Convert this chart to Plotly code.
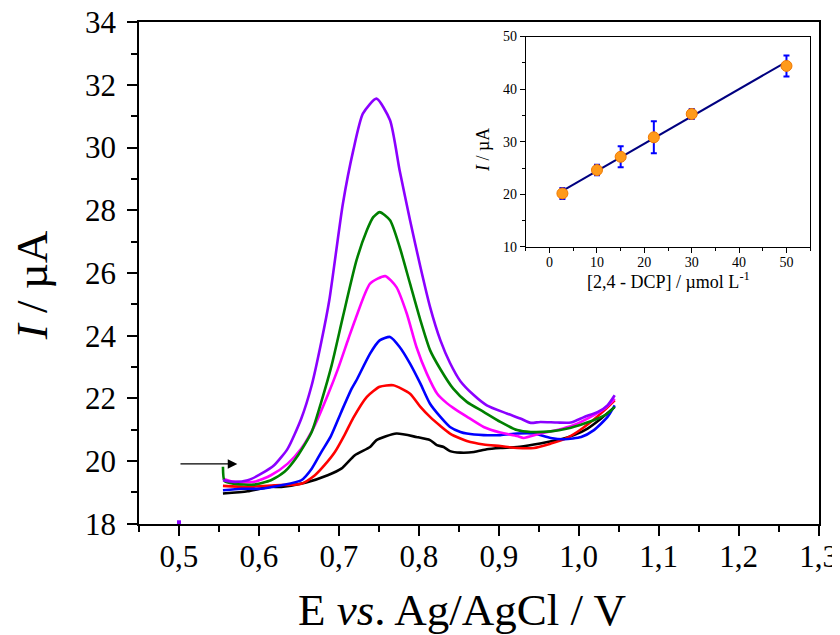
import plotly.graph_objects as go

# ---------------- main voltammograms (E / V, I / uA) ----------------
v_black = [0.555, 0.586, 0.613, 0.628, 0.658, 0.686, 0.703, 0.720, 0.739, 0.747, 0.772, 0.797, 0.814,
           0.8225, 0.831, 0.839, 0.852, 0.869, 0.885, 0.902, 0.923, 0.944, 0.961, 0.978, 0.994, 1.011,
           1.028, 1.045]
i_black = [18.97, 19.04, 19.18, 19.18, 19.31, 19.55, 19.76, 20.19, 20.45, 20.67, 20.88, 20.77, 20.67,
           20.51, 20.45, 20.32, 20.27, 20.29, 20.38, 20.42, 20.45, 20.53, 20.61, 20.70, 20.83, 21.04,
           21.36, 21.73]

v_red = [0.555, 0.586, 0.619, 0.653, 0.670, 0.682, 0.695, 0.707, 0.718, 0.735, 0.751, 0.768, 0.789,
         0.802, 0.814, 0.827, 0.839, 0.852, 0.860, 0.881, 0.902, 0.923, 0.944, 0.965, 0.982, 0.998,
         1.015, 1.032, 1.045]
i_red = [19.21, 19.18, 19.23, 19.28, 19.55, 19.87, 20.29, 20.83, 21.38, 22.05, 22.37, 22.42, 22.15,
         21.73, 21.41, 21.12, 20.88, 20.72, 20.64, 20.53, 20.48, 20.42, 20.42, 20.56, 20.70, 20.93,
         21.25, 21.62, 21.94]

v_blue = [0.555, 0.578, 0.603, 0.628, 0.653, 0.666, 0.678, 0.690, 0.703, 0.716, 0.722, 0.739, 0.751,
          0.764, 0.776, 0.789, 0.802, 0.814, 0.827, 0.839, 0.852, 0.860, 0.881, 0.902, 0.923, 0.944,
          0.965, 0.982, 1.003, 1.019, 1.036, 1.045]
i_blue = [19.07, 19.12, 19.12, 19.23, 19.39, 19.76, 20.29, 20.80, 21.57, 22.31, 22.58, 23.43, 23.85,
          23.96, 23.64, 23.11, 22.47, 21.83, 21.41, 21.09, 20.93, 20.88, 20.83, 20.83, 20.88, 20.88,
          20.74, 20.70, 20.77, 20.99, 21.41, 21.78]

v_magenta = [0.555, 0.569, 0.594, 0.615, 0.636, 0.653, 0.670, 0.686, 0.699, 0.712, 0.721, 0.739, 0.758,
             0.772, 0.785, 0.797, 0.810, 0.823, 0.835, 0.843, 0.860, 0.881, 0.902, 0.923, 0.931, 0.952,
             0.973, 0.994, 1.015, 1.032, 1.045]
i_magenta = [19.44, 19.34, 19.34, 19.55, 19.92, 20.40, 21.15, 22.10, 22.95, 23.91, 24.55, 25.66, 25.90,
             25.55, 24.70, 23.64, 22.79, 22.15, 21.85, 21.70, 21.42, 21.09, 20.91, 20.80, 20.74, 20.88,
             20.99, 21.15, 21.41, 21.67, 21.99]

v_green = [0.555, 0.557, 0.569, 0.594, 0.615, 0.632, 0.649, 0.666, 0.678, 0.691, 0.705, 0.722, 0.735,
           0.743, 0.751, 0.764, 0.776, 0.789, 0.802, 0.814, 0.827, 0.843, 0.860, 0.881, 0.902, 0.923,
           0.940, 0.965, 0.986, 1.007, 1.024, 1.036, 1.045]
i_green = [19.82, 19.36, 19.28, 19.25, 19.39, 19.66, 20.19, 20.93, 21.89, 23.06, 24.60, 26.40, 27.36,
           27.78, 27.94, 27.68, 26.83, 25.66, 24.49, 23.54, 22.93, 22.31, 21.89, 21.57, 21.25, 20.99,
           20.93, 20.95, 21.04, 21.20, 21.36, 21.52, 21.73]

v_purple = [0.555, 0.569, 0.586, 0.603, 0.619, 0.636, 0.653, 0.666, 0.678, 0.688, 0.705, 0.718, 0.730,
            0.747, 0.764, 0.776, 0.789, 0.802, 0.814, 0.827, 0.839, 0.852, 0.869, 0.885, 0.910, 0.927,
            0.940, 0.952, 0.973, 0.990, 1.007, 1.024, 1.036, 1.045]
i_purple = [19.39, 19.34, 19.39, 19.60, 19.87, 20.40, 21.36, 22.42, 23.80, 25.13, 28.21, 29.91, 31.08,
            31.56, 30.87, 29.27, 27.68, 26.19, 24.92, 23.85, 23.13, 22.55, 22.10, 21.78, 21.52, 21.36,
            21.22, 21.25, 21.23, 21.23, 21.41, 21.57, 21.78, 22.10]

# stray point at the axis corner
v_dot = [0.5]
i_dot = [18.05]

# arrow (start / end potential, current)
arrow_v = [0.50, 0.573]
arrow_i = 19.91

# ---------------- inset calibration ----------------
conc = [2.7, 10, 15, 22, 30, 50]
i_peak = [20.17, 24.61, 27.14, 30.84, 35.28, 44.42]
i_err = [1.05, 1.0, 2.0, 3.05, 0.95, 2.0]
fit_x = [2.7, 50]
fit_y = [20.67, 45.2]

series = [
    (v_black, i_black, "#000000"),
    (v_red, i_red, "#FF0000"),
    (v_blue, i_blue, "#0000FF"),
    (v_magenta, i_magenta, "#FF00FF"),
    (v_green, i_green, "#008000"),
    (v_purple, i_purple, "#8B00FF"),
]

FONT = "Liberation Serif, Times New Roman, serif"

fig = go.Figure()
for v, i, c in series:
    fig.add_trace(go.Scatter(x=v, y=i, mode="lines",
                             line=dict(color=c, width=2.6, shape="spline", smoothing=0.6),
                             showlegend=False, hoverinfo="skip"))

fig.add_trace(go.Scatter(x=v_dot, y=i_dot, mode="markers",
                         marker=dict(color="#8B00FF", size=4, symbol="square"),
                         cliponaxis=False, showlegend=False))

# inset
fig.add_trace(go.Scatter(x=fit_x, y=fit_y, mode="lines", line=dict(color="#000080", width=2),
                         xaxis="x2", yaxis="y2", showlegend=False))
fig.add_trace(go.Scatter(x=conc, y=i_peak, mode="markers",
                         marker=dict(color="#FF9A1A", size=11, line=dict(color="#F07800", width=1)),
                         error_y=dict(type="data", array=i_err, color="#0000FF", thickness=2, width=3),
                         xaxis="x2", yaxis="y2", showlegend=False))

fig.add_annotation(x=arrow_v[1], y=arrow_i, ax=arrow_v[0], ay=arrow_i, xref="x", yref="y",
                   axref="x", ayref="y", showarrow=True, arrowhead=2, arrowsize=1.6,
                   arrowwidth=1.2, arrowcolor="black", text="")

# axis titles
fig.add_annotation(text="E <i>vs</i>. Ag/AgCl / V", xref="paper", yref="paper", x=0.475, y=-0.171,
                   xanchor="center", yanchor="middle", showarrow=False,
                   font=dict(size=45, family=FONT, color="black"))
fig.add_annotation(text="<i>I</i> / µA", xref="paper", yref="paper", x=-0.157, y=0.476,
                   xanchor="center", yanchor="middle", showarrow=False, textangle=-90,
                   font=dict(size=45, family=FONT, color="black"))
fig.add_annotation(text="[2,4 - DCP] / µmol L<sup>-1</sup>", xref="paper", yref="paper",
                   x=0.778, y=0.486, xanchor="center", yanchor="middle", showarrow=False,
                   font=dict(size=18, family=FONT, color="black"))
fig.add_annotation(text="<i>I</i> / µA", xref="paper", yref="paper", x=0.506, y=0.745,
                   xanchor="center", yanchor="middle", showarrow=False, textangle=-90,
                   font=dict(size=18, family=FONT, color="black"))

axis_common = dict(showline=True, linecolor="black", linewidth=1.5, mirror=True, showgrid=False,
                   zeroline=False, ticks="outside", tickcolor="black", tickwidth=1.5,
                   automargin=False, ticklabeloverflow="allow")

fig.update_layout(
    width=840, height=635,
    margin=dict(l=131, r=29, t=14, b=119, autoexpand=False),
    paper_bgcolor="white", plot_bgcolor="white",
    separators=",.",
    font=dict(family=FONT, color="black"),
    xaxis=dict(**axis_common, range=[0.45, 1.3005], tick0=0.5, dtick=0.1, tickformat=".1f",
               ticklen=10, ticklabelstandoff=-6,
               minor=dict(dtick=0.05, tick0=0.5, ticks="outside", ticklen=6,
                          tickcolor="black", tickwidth=1.5),
               tickfont=dict(size=31, family=FONT)),
    yaxis=dict(**axis_common, range=[17.995, 34.005], tick0=18, dtick=2, ticklen=10,
               ticklabelstandoff=5,
               minor=dict(dtick=1, ticks="outside", ticklen=6, tickcolor="black", tickwidth=1.5),
               tickfont=dict(size=31, family=FONT)),
    xaxis2=dict(showline=True, linecolor="black", linewidth=1, mirror=True, showgrid=False,
                zeroline=False, ticks="outside", tickcolor="black", tickwidth=1, ticklen=5,
                automargin=False, ticklabelstandoff=-3,
                domain=[0.569, 0.987], anchor="y2", range=[-5, 55], tick0=0, dtick=10,
                minor=dict(dtick=5, ticks="outside", ticklen=3, tickcolor="black"),
                tickfont=dict(size=14, family=FONT)),
    yaxis2=dict(showline=True, linecolor="black", linewidth=1, mirror=True, showgrid=False,
                zeroline=False, ticks="outside", tickcolor="black", tickwidth=1, ticklen=5,
                automargin=False,
                domain=[0.552, 0.971], anchor="x2", range=[10, 50], tick0=10, dtick=10,
                minor=dict(dtick=5, ticks="outside", ticklen=3, tickcolor="black"),
                tickfont=dict(size=14, family=FONT)),
)

fig.write_html("out.html")
